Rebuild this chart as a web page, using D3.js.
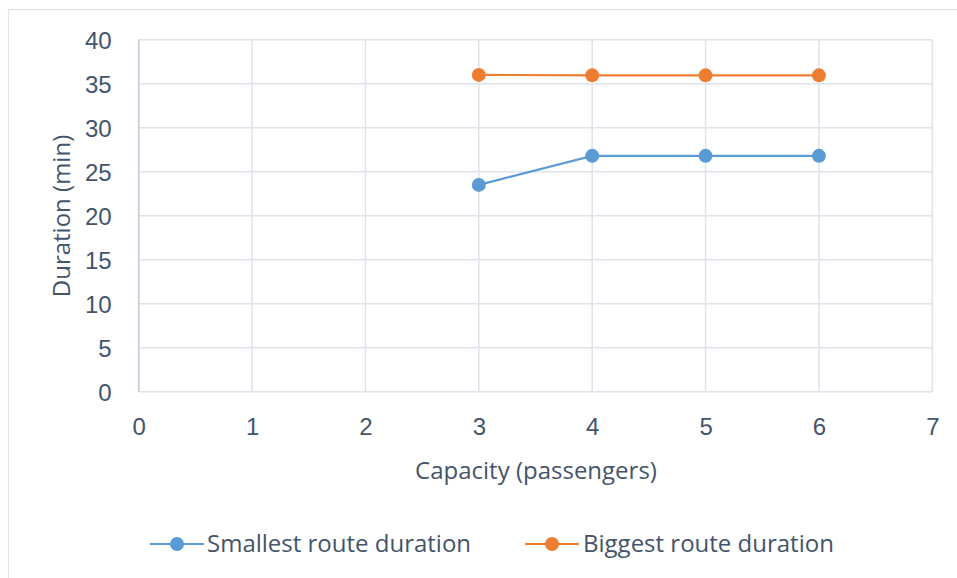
<!DOCTYPE html>
<html>
<head>
<meta charset="utf-8">
<script src="https://cdn.jsdelivr.net/npm/d3@7"></script>
<style>
  html, body { margin: 0; padding: 0; background: #fff; }
  svg { display: block; font-family: "Open Sans", "Noto Sans", sans-serif; }
</style>
</head>
<body>
<svg id="chart" width="957" height="578"></svg>
<script>
// Route duration by vehicle capacity
const capacity = [3, 4, 5, 6];
const smallestDuration = [23.5, 26.8, 26.8, 26.8];
const biggestDuration = [36, 35.95, 35.95, 35.95];
const xTicks = [0, 1, 2, 3, 4, 5, 6, 7];
const yTicks = [0, 5, 10, 15, 20, 25, 30, 35, 40];
const seriesNames = ["Smallest route duration", "Biggest route duration"];
const seriesColors = ["#5B9BD5", "#ED7D31"];

const textColor = "#44546A";
const gridColor = "#DEE2E9";
const fontSize = "24px";

const svg = d3.select("#chart");
const plot = { left: 138.7, right: 932.3, top: 39.7, bottom: 391.7 };

// Chart frame (only top and left edges fall inside the view)
svg.append("rect")
  .attr("x", 8.5).attr("y", 9.5)
  .attr("width", 1200).attr("height", 1200)
  .attr("fill", "#fff")
  .attr("stroke", "#E0E3E8").attr("stroke-width", 1.2);

const x = d3.scaleLinear().domain([0, 7]).range([plot.left, plot.right]);
const y = d3.scaleLinear().domain([0, 40]).range([plot.bottom, plot.top]);

// Gridlines
const grid = svg.append("g");
grid.selectAll("line.h").data(yTicks).join("line")
  .attr("x1", plot.left).attr("x2", plot.right)
  .attr("y1", d => y(d)).attr("y2", d => y(d))
  .attr("stroke", gridColor).attr("stroke-width", 1.5);
grid.selectAll("line.v").data(xTicks).join("line")
  .attr("y1", plot.top).attr("y2", plot.bottom)
  .attr("x1", d => x(d)).attr("x2", d => x(d))
  .attr("stroke", gridColor).attr("stroke-width", 1.5);

// Vertical axis line
svg.append("line")
  .attr("x1", x(0)).attr("x2", x(0))
  .attr("y1", plot.top).attr("y2", plot.bottom)
  .attr("stroke", "#C3CBD8").attr("stroke-width", 1.5);

// Axes (labels only; lines come from the grid)
const yAxis = svg.append("g")
  .attr("transform", `translate(${plot.left},0)`)
  .call(d3.axisLeft(y).tickValues(yTicks).tickFormat(d3.format("d")).tickSize(0).tickPadding(27));
yAxis.select(".domain").remove();
yAxis.selectAll("text")
  .attr("fill", textColor).style("font-size", fontSize)
  .attr("dy", "0.36em");

const xAxis = svg.append("g")
  .attr("transform", `translate(0,${plot.bottom})`)
  .call(d3.axisBottom(x).tickValues(xTicks).tickFormat(d3.format("d")).tickSize(0).tickPadding(26));
xAxis.select(".domain").remove();
xAxis.selectAll("text")
  .attr("fill", textColor).style("font-size", fontSize)
  .attr("dy", "0.71em");

// Axis titles
svg.append("text")
  .attr("x", 536).attr("y", 479)
  .attr("text-anchor", "middle")
  .attr("fill", textColor).style("font-size", fontSize)
  .text("Capacity (passengers)");

svg.append("text")
  .attr("transform", `translate(70,216) rotate(-90)`)
  .attr("text-anchor", "middle")
  .attr("fill", textColor).style("font-size", fontSize)
  .text("Duration (min)");

// Series
const series = [smallestDuration, biggestDuration];
const line = d3.line().x((d, i) => x(capacity[i])).y(d => y(d));

series.forEach((vals, k) => {
  const g = svg.append("g");
  g.append("path")
    .datum(vals)
    .attr("d", line)
    .attr("fill", "none")
    .attr("stroke", seriesColors[k]).attr("stroke-width", 2.2);
  g.selectAll("circle").data(vals).join("circle")
    .attr("cx", (d, i) => x(capacity[i]))
    .attr("cy", d => y(d))
    .attr("r", 7)
    .attr("fill", seriesColors[k]);
});

// Legend
const legendItems = [
  { x0: 150, tx: 207 },
  { x0: 525, tx: 583 }
];
const legendY = 544;
legendItems.forEach((it, k) => {
  const g = svg.append("g");
  g.append("line")
    .attr("x1", it.x0).attr("x2", it.x0 + 54)
    .attr("y1", legendY).attr("y2", legendY)
    .attr("stroke", seriesColors[k]).attr("stroke-width", 2.2);
  g.append("circle")
    .attr("cx", it.x0 + 27).attr("cy", legendY).attr("r", 7)
    .attr("fill", seriesColors[k]);
  g.append("text")
    .attr("x", it.tx).attr("y", legendY)
    .attr("dy", "0.35em")
    .attr("fill", textColor).style("font-size", fontSize)
    .text(seriesNames[k]);
});
</script>
</body>
</html>
